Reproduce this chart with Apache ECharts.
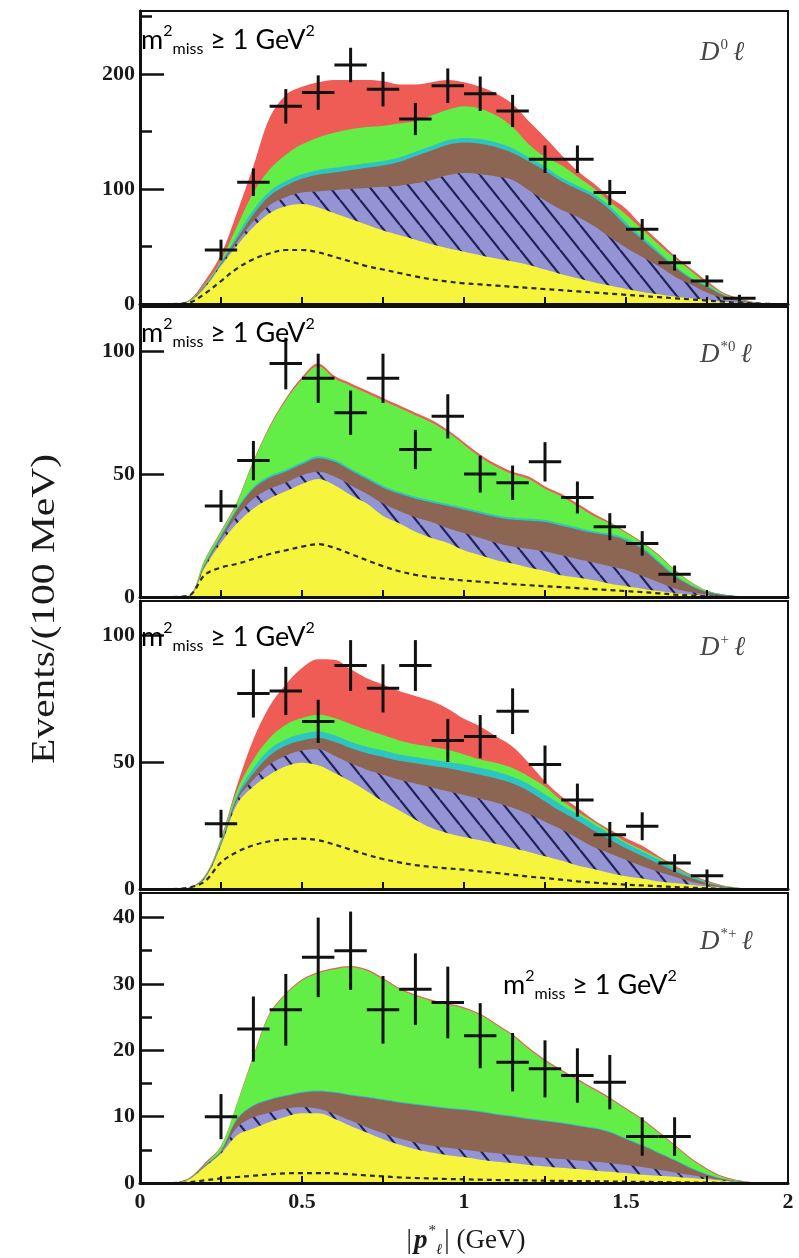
<!DOCTYPE html>
<html>
<head>
<meta charset="utf-8">
<script src="https://cdn.jsdelivr.net/npm/echarts@6/dist/echarts.min.js"></script>
<style>
  html, body { margin: 0; padding: 0; background: #fff; }
  #main { width: 799px; height: 1258px; }
</style>
</head>
<body>
<div id="main"></div>
<script>
// x positions of the fitted templates (GeV)
var xs = [0.1, 0.15, 0.2, 0.25, 0.3, 0.35, 0.4, 0.45, 0.5, 0.55, 0.6, 0.65, 0.7, 0.75, 0.8, 0.85, 0.9, 0.95, 1.0,
  1.05, 1.1, 1.15, 1.2, 1.25, 1.3, 1.35, 1.4, 1.45, 1.5, 1.55, 1.6, 1.65, 1.7, 1.75, 1.8, 1.85, 1.9, 1.95];

// panel 1 : D0 l  (cumulative top edge of every band)
var red1 = [0, 3, 20, 43, 80, 120, 162, 182, 189, 193, 195, 195, 195, 194, 191, 191, 193, 195, 193, 189, 183, 174, 159, 145, 130, 116, 105, 93, 83, 68, 55, 42, 31, 20, 10, 5, 1.5, 0];
var green1 = [0, 2.8, 17, 38, 68, 97, 117, 130, 139, 145, 149, 152, 154, 155, 157, 159, 164, 169, 172, 170, 164, 154, 139, 128, 121, 111, 101, 89, 78, 65, 52, 40, 29, 18, 9, 4, 1.2, 0];
var cyan1 = [0, 2.5, 16, 36.5, 60, 82, 98, 107, 113, 116.5, 118.5, 120.5, 122.5, 124.5, 127.5, 132.5, 137.5, 142.5, 144.5, 143.5, 140.5, 135.5, 127.5, 119.5, 110, 103, 96, 85, 71, 58.5, 46, 33.5, 23, 16, 8, 3.3, 1.1, 0];
var brown1 = [0, 2.4, 15.5, 35.5, 57, 78, 94, 103, 109, 112.5, 114.5, 116.5, 118.5, 120.5, 123.5, 128.5, 133.5, 138.5, 140.5, 139.5, 136.5, 131.5, 124, 116, 107, 100, 93, 82, 68, 56, 44, 32, 22, 15, 7.5, 3, 1, 0];
var lav1 = [0, 2.2, 15, 34.5, 54, 72, 86, 93, 97, 98, 99, 100, 101, 102, 103, 105, 108, 112, 114, 113, 111, 108, 99, 90, 82, 76, 68, 58, 49, 41, 33, 24, 17, 10, 5, 2.5, 0.9, 0];
var yellow1 = [0, 2, 14, 33, 51, 67, 79, 85, 87, 84, 79, 74, 69, 64, 60, 56, 52, 48.5, 45.5, 42.5, 39.5, 37, 34, 30, 26, 22.5, 19, 16, 13, 10.5, 8.5, 6.5, 5, 3.5, 2, 1, 0.4, 0];
var dash1 = [0, 1, 9, 20, 31, 39, 44, 47, 47, 45, 41, 37, 33, 30, 27, 24, 21.5, 19.5, 18, 17, 16, 15, 14, 13, 12, 11, 10, 9, 8, 7, 6, 5, 4, 3, 2, 1, 0.5, 0];
var ptX1 = [0.25, 0.35, 0.45, 0.55, 0.65, 0.75, 0.85, 0.95, 1.05, 1.15, 1.25, 1.35, 1.45, 1.55, 1.65, 1.75, 1.85];
var ptY1 = [47, 106, 172, 184, 208, 187, 161, 190, 183, 168, 126, 126, 97, 65, 36, 20, 5];
var ptE1 = [9, 12, 15, 15, 15, 15, 14, 15, 15, 14, 12, 12, 11, 9, 7, 5, 3];

// panel 2 : D*0 l
var red2 = [0, 0.6, 15.3, 27, 39, 55.5, 69.6, 80.8, 89.5, 95, 90, 87, 84, 81, 78, 75, 72, 68, 63, 58, 54, 51, 49, 45, 42, 38, 34, 30.5, 26.5, 22.4, 17.4, 11.3, 6.2, 2.6, 1, 0.3, 0, 0];
var green2 = [0, 0.5, 15, 26.5, 38.5, 55, 69, 80, 88.5, 94, 89, 86, 83, 80, 77, 74, 71, 67, 62, 57, 53, 50, 48, 44, 41, 37, 33, 30, 26, 22, 17, 11, 6, 2.5, 1, 0.3, 0, 0];
var cyan2 = [0, 0.35, 13.5, 25.2, 36.3, 44.8, 49.3, 51.8, 54.8, 57.3, 55.8, 52.3, 48.8, 45.3, 42.8, 40.8, 39.3, 37.8, 36.3, 34.8, 33.3, 32.3, 31.8, 31.3, 29.8, 28.3, 26.8, 25.8, 23.8, 20.3, 14.8, 9.2, 5, 2.3, 1, 0.4, 0, 0];
var brown2 = [0, 0.3, 13.2, 24.5, 35.5, 44, 48.5, 51, 54, 56.5, 55, 51.5, 48, 44.5, 42, 40, 38.5, 37, 35.5, 34, 32.5, 31.5, 31, 30.5, 29, 27.5, 26, 25, 23, 19.5, 14, 8.5, 4.5, 2, 0.8, 0.3, 0, 0];
var lav2 = [0, 0.25, 12.6, 23.5, 33, 40, 44, 46.5, 49.5, 51, 49, 45.5, 42, 38, 35, 32.5, 30.5, 28, 26, 24, 22, 20.5, 19.5, 18.5, 17, 15.5, 14, 12.5, 11, 8.5, 6, 3.5, 2, 1, 0.5, 0.2, 0, 0];
var yellow2 = [0, 0.2, 12, 22, 30, 36, 40, 43, 46, 48, 45.5, 41.5, 38, 33, 30, 26.5, 24, 22, 19, 17, 15, 13.6, 12, 10.6, 8.8, 7.9, 6.8, 5.4, 4.4, 3.4, 2.4, 1.6, 1, 0.5, 0.2, 0.1, 0, 0];
var dash2 = [0, 0.5, 9, 12, 13.5, 15.5, 17.5, 19, 20.5, 21.5, 20, 17.5, 15, 12.5, 10.5, 9, 8, 7.3, 6.7, 6.2, 5.7, 5.2, 4.8, 4.4, 4, 3.6, 3.2, 2.8, 2.4, 2, 1.5, 1, 0.6, 0.3, 0.1, 0, 0, 0];
var ptX2 = [0.25, 0.35, 0.45, 0.55, 0.65, 0.75, 0.85, 0.95, 1.05, 1.15, 1.25, 1.35, 1.45, 1.55, 1.65];
var ptY2 = [37, 55.5, 95, 89, 75, 89, 60, 73.5, 50, 46.5, 55, 40.5, 28.6, 21.8, 9.3];
var ptE2 = [6.5, 8, 10.5, 10, 9, 10, 8, 9, 7.5, 7, 8, 6.5, 5.5, 5, 3.5];

// panel 3 : D+ l
var red3 = [0, 0.5, 5.2, 20, 41, 59, 72, 80.5, 87, 90.5, 90.3, 86.6, 83, 80.5, 78, 76, 74, 71, 67, 64, 60, 56, 49.6, 42.4, 36.5, 32, 27.3, 23.4, 20, 17, 13, 9.3, 5.8, 3.2, 1.4, 0.5, 0, 0];
var green3 = [0, 0.5, 5, 19.4, 39, 51, 59.5, 64.7, 67.3, 68.6, 67.3, 65, 62.7, 60.6, 58.5, 57, 56, 54.8, 53, 51, 49.6, 47.6, 44.3, 40.4, 35, 30.5, 26.5, 22.5, 18.5, 15.5, 12.3, 8.6, 5.4, 2.9, 1.25, 0.4, 0, 0];
var cyan3 = [0, 0.45, 4.8, 18.5, 37, 47.5, 55, 59, 61, 62, 60.5, 58, 56, 54.5, 53, 52, 51, 50, 49, 47.7, 46.2, 44.2, 41.2, 37.2, 33.2, 29.5, 25.5, 21.7, 18, 14.8, 11.6, 8.2, 5.2, 2.7, 1.2, 0.35, 0, 0];
var brown3 = [0, 0.4, 4.6, 18, 36, 45.5, 52.5, 56.5, 58.5, 59.5, 58, 55.5, 53.5, 52, 50.5, 49.5, 48.5, 47.5, 46.3, 45, 43.5, 41.5, 38.5, 34.5, 30.5, 27, 23, 19.5, 16, 13, 10, 7, 4.4, 2.3, 1, 0.3, 0, 0];
var lav3 = [0, 0.35, 4.3, 17.5, 35, 43, 49, 52.5, 54.5, 55, 52.5, 49.5, 47, 45, 43, 41.5, 40, 38.5, 37, 35.5, 34, 32, 29.5, 26.5, 23.5, 20, 16.5, 14, 11.5, 9, 6.8, 4.8, 3, 1.6, 0.7, 0.2, 0, 0];
var yellow3 = [0, 0.3, 4, 17, 33.5, 40.4, 45, 48.3, 49.7, 48.7, 45.7, 42.4, 38.5, 34.5, 31, 27.3, 24, 22, 20.5, 19.2, 17.7, 16.1, 14.6, 12.9, 11.2, 9.3, 7.9, 6.3, 5, 4.1, 3, 2.4, 1.7, 1, 0.5, 0.2, 0, 0];
var dash3 = [0, 0.5, 3, 10.5, 14.6, 17.2, 18.8, 19.6, 19.8, 19.2, 17.5, 15.5, 13.5, 11.8, 10.5, 9.4, 8.7, 8.1, 7.6, 6.9, 6.3, 5.6, 4.9, 4.3, 3.7, 3, 2.5, 2.1, 1.7, 1.4, 1.1, 0.8, 0.5, 0.3, 0.1, 0, 0, 0];
var ptX3 = [0.25, 0.35, 0.45, 0.55, 0.65, 0.75, 0.85, 0.95, 1.05, 1.15, 1.25, 1.35, 1.45, 1.55, 1.65, 1.75];
var ptY3 = [25.7, 77, 78, 66, 88, 79, 88, 58.5, 60, 70, 49, 35, 21.4, 24.7, 10.2, 5.2];
var ptE3 = [5.5, 9.5, 9.5, 8.5, 10, 9.5, 10, 8.5, 8.5, 9, 7.5, 6.5, 5, 5.5, 3.5, 2.5];

// panel 4 : D*+ l
var red4 = [0, 0.7, 3, 5.6, 12.1, 19.2, 25.6, 28.6, 30.7, 31.8, 32.4, 32.7, 32.2, 30.9, 29.4, 28.4, 27.6, 27.1, 26.5, 25.5, 24, 22.4, 20.4, 18.6, 17.1, 15.7, 14.3, 12.9, 11.3, 9.7, 7.8, 5.8, 3.8, 2.2, 1, 0.4, 0.1, 0];
var green4 = [0, 0.65, 2.8, 5.5, 12, 19, 25.4, 28.4, 30.5, 31.6, 32.2, 32.5, 32, 30.7, 29.2, 28.2, 27.4, 26.9, 26.3, 25.3, 23.8, 22.2, 20.2, 18.4, 16.9, 15.5, 14.1, 12.7, 11.1, 9.5, 7.6, 5.6, 3.6, 2, 0.85, 0.35, 0.1, 0];
var cyan4 = [0, 0.62, 2.7, 4.9, 9.75, 11.75, 12.65, 13.25, 13.75, 13.95, 13.75, 13.35, 13.05, 12.65, 12.25, 11.95, 11.65, 11.35, 11.15, 10.85, 10.45, 10.15, 9.75, 9.45, 9.15, 8.75, 8.35, 7.75, 6.75, 5.75, 4.65, 3.55, 2.35, 1.35, 0.65, 0.25, 0, 0];
var brown4 = [0, 0.6, 2.6, 4.8, 9.6, 11.6, 12.5, 13.1, 13.6, 13.8, 13.6, 13.2, 12.9, 12.5, 12.1, 11.8, 11.5, 11.2, 11, 10.7, 10.3, 10, 9.6, 9.3, 9, 8.6, 8.2, 7.6, 6.6, 5.6, 4.5, 3.4, 2.2, 1.25, 0.6, 0.2, 0, 0];
var lav4 = [0, 0.55, 2.5, 4.6, 8.4, 9.9, 10.6, 11.2, 11.4, 11.2, 10.4, 9.4, 8.4, 7.5, 6.7, 6.1, 5.6, 5.3, 5, 4.7, 4.5, 4.2, 4, 3.8, 3.6, 3.4, 3.2, 3, 2.7, 2.4, 2, 1.6, 1.2, 0.8, 0.45, 0.15, 0, 0];
var yellow4 = [0, 0.5, 2.4, 4.4, 7.2, 8.2, 9.2, 10, 10.5, 10.5, 9.7, 8.6, 7.6, 6.6, 5.8, 5.1, 4.6, 4.2, 3.9, 3.5, 3.2, 3, 2.7, 2.5, 2.3, 2.1, 1.9, 1.7, 1.5, 1.25, 1.1, 0.95, 0.75, 0.55, 0.35, 0.15, 0, 0];
var dash4 = [0, 0.1, 0.4, 0.7, 0.9, 1.1, 1.3, 1.45, 1.5, 1.5, 1.45, 1.3, 1.15, 1, 0.85, 0.75, 0.68, 0.6, 0.55, 0.5, 0.45, 0.42, 0.38, 0.35, 0.32, 0.29, 0.26, 0.23, 0.2, 0.17, 0.14, 0.11, 0.08, 0.05, 0.03, 0.01, 0, 0];
var ptX4 = [0.25, 0.35, 0.45, 0.55, 0.65, 0.75, 0.85, 0.95, 1.05, 1.15, 1.25, 1.35, 1.45, 1.55, 1.65];
var ptY4 = [10, 23.2, 26.1, 34, 35, 26.1, 29.2, 27.2, 22.2, 18.2, 17.2, 16.2, 15.2, 7, 7];
var ptE4 = [3.4, 4.9, 5.4, 6, 5.9, 5.1, 5.4, 5.4, 4.9, 4.4, 4.3, 4.1, 4.1, 2.9, 2.9];

// axis ticks and labels
var xTickVals = [0.25, 0.5, 0.75, 1, 1.25, 1.5, 1.75];
var xLabelVals = [0, 0.5, 1, 1.5, 2];
var yMax = [255, 118, 113.4, 43.7];
var yMajor = [[0, 100, 200], [0, 50, 100], [0, 50, 100], [0, 10, 20, 30, 40]];
var yMinor = [[50, 150, 250], [], [], [5, 15, 25, 35]];
var panelNames = ['0', '*0', '+', '*+'];

var panels = [
  { red: red1, green: green1, cyan: cyan1, brown: brown1, lav: lav1, yellow: yellow1, dash: dash1, px: ptX1, py: ptY1, pe: ptE1 },
  { red: red2, green: green2, cyan: cyan2, brown: brown2, lav: lav2, yellow: yellow2, dash: dash2, px: ptX2, py: ptY2, pe: ptE2 },
  { red: red3, green: green3, cyan: cyan3, brown: brown3, lav: lav3, yellow: yellow3, dash: dash3, px: ptX3, py: ptY3, pe: ptE3 },
  { red: red4, green: green4, cyan: cyan4, brown: brown4, lav: lav4, yellow: yellow4, dash: dash4, px: ptX4, py: ptY4, pe: ptE4 }
];

var gridBoxes = [
  { top: 11, height: 293 },
  { top: 307, height: 290 },
  { top: 601, height: 288 },
  { top: 893, height: 290 }
];

// hatch pattern for the lavender band
function makeHatch () {
  var w = 20, h = 25;
  var c = document.createElement('canvas');
  c.width = w; c.height = h;
  var g = c.getContext('2d');
  g.fillStyle = '#9494d4';
  g.fillRect(0, 0, w, h);
  g.strokeStyle = '#22225a';
  g.lineWidth = 2.2;
  [-w, 0, w].forEach(function (o) {
    g.beginPath();
    g.moveTo(o, 0);
    g.lineTo(o + w, h);
    g.stroke();
  });
  return c;
}
var hatch = makeHatch();

var myChart = echarts.init(document.getElementById('main'));

var grid = [], xAxis = [], yAxis = [], series = [];
var tickFont = { fontFamily: '"Liberation Serif", "DejaVu Serif", serif', fontSize: 22, fontWeight: 'bold', color: '#1a1a1a' };

gridBoxes.forEach(function (b, i) {
  grid.push({ left: 140, right: 11, top: b.top, height: b.height, show: true, borderColor: '#111', borderWidth: 2, backgroundColor: 'transparent' });
  xAxis.push({
    gridIndex: i, type: 'value', min: 0, max: 2, z: 10,
    axisLine: { show: true, lineStyle: { color: '#111', width: 3 } },
    axisTick: { show: true, inside: true, length: 7, customValues: xTickVals, lineStyle: { color: '#111', width: 2 } },
    axisLabel: Object.assign({ show: i === 3, margin: 8, customValues: xLabelVals }, tickFont),
    splitLine: { show: false }
  });
  yAxis.push({
    gridIndex: i, type: 'value', min: 0, max: yMax[i], position: 'left', z: 10,
    axisLine: { show: true, lineStyle: { color: '#111', width: 3 } },
    axisTick: { show: true, inside: true, length: 24, customValues: yMajor[i], lineStyle: { color: '#111', width: 2.5 } },
    axisLabel: Object.assign({ margin: 5, customValues: yMajor[i] }, tickFont),
    splitLine: { show: false }
  });
});
// short ticks
[0, 3].forEach(function (i) {
  yAxis.push({
    gridIndex: i, type: 'value', min: 0, max: yMax[i], position: 'left', offset: 0, z: 10,
    axisLine: { show: false },
    axisTick: { show: true, inside: true, length: 12, customValues: yMinor[i], lineStyle: { color: '#111', width: 2.5 } },
    axisLabel: { show: false },
    splitLine: { show: false }
  });
});

function band (i, vals, color) {
  return {
    type: 'line', xAxisIndex: i, yAxisIndex: i, silent: true,
    data: xs.map(function (x, k) { return [x, vals[k]] }),
    symbol: 'none', smooth: 0.35,
    lineStyle: { width: 0, opacity: 0 },
    areaStyle: { color: color, opacity: 1 }
  };
}

function renderCross (params, api) {
  var x = api.value(0), y = api.value(1), e = api.value(2);
  var l = api.coord([x - 0.05, y]);
  var r = api.coord([x + 0.05, y]);
  var t = api.coord([x, y + e]);
  var b = api.coord([x, Math.max(0, y - e)]);
  var st = { stroke: '#111', lineWidth: 3 };
  return {
    type: 'group',
    children: [
      { type: 'line', shape: { x1: l[0], y1: l[1], x2: r[0], y2: r[1] }, style: st },
      { type: 'line', shape: { x1: t[0], y1: t[1], x2: b[0], y2: b[1] }, style: st }
    ]
  };
}

panels.forEach(function (p, i) {
  series.push(band(i, p.red, '#ef5b55'));
  series.push(band(i, p.green, '#62ee46'));
  series.push(band(i, p.cyan, '#2ec4c2'));
  series.push(band(i, p.brown, '#8c6652'));
  series.push(band(i, p.lav, { image: hatch, repeat: 'repeat' }));
  series.push(band(i, p.yellow, '#f6f43c'));
  series.push({
    type: 'line', xAxisIndex: i, yAxisIndex: i, silent: true,
    data: xs.map(function (x, k) { return [x, p.dash[k]] }),
    symbol: 'none', smooth: 0.35,
    lineStyle: { color: '#2a2a2a', width: 2.2, type: [5, 4] }
  });
  series.push({
    type: 'custom', xAxisIndex: i, yAxisIndex: i, silent: true, z: 5,
    data: p.px.map(function (x, k) { return [x, p.py[k], p.pe[k]] }),
    encode: { x: 0, y: 1 },
    renderItem: renderCross
  });
});

// text overlays
var missTextPos = [[141, 40], [141, 333], [141, 637], [503, 985]];
var labelPos = [[700, 53], [700, 355], [700, 648], [700, 942]];
var graphic = [];
missTextPos.forEach(function (pos) {
  graphic.push({
    type: 'text', x: pos[0], y: pos[1], z: 20, silent: true,
    style: {
      text: '{m|m}{sup|2}{sub|miss}{m| ≥ 1 GeV}{sup|2}',
      align: 'left', verticalAlign: 'middle',
      rich: {
        m: { fontFamily: 'Lato', fontSize: 27, lineHeight: 34, fill: '#000', verticalAlign: 'middle' },
        sup: { fontFamily: 'Lato', fontSize: 16, lineHeight: 16, fill: '#000', verticalAlign: 'top' },
        sub: { fontFamily: 'Lato', fontSize: 16, lineHeight: 16, fill: '#000', verticalAlign: 'bottom' }
      }
    }
  });
});
labelPos.forEach(function (pos, i) {
  graphic.push({
    type: 'text', x: pos[0], y: pos[1], z: 20, silent: true,
    style: {
      text: '{d|D}{s|' + panelNames[i] + '}{d|ℓ}',
      align: 'left', verticalAlign: 'middle',
      rich: {
        d: { fontFamily: '"Liberation Serif", "DejaVu Serif", serif', fontStyle: 'italic', fontSize: 27, lineHeight: 30, fill: '#474747', verticalAlign: 'middle' },
        s: { fontFamily: '"Liberation Serif", "DejaVu Serif", serif', fontSize: 15, lineHeight: 15, fill: '#474747', verticalAlign: 'top', padding: [0, 5, 0, 1] }
      }
    }
  });
});
graphic.push({
  type: 'text', x: 45, y: 609, rotation: Math.PI / 2, scaleX: 1.22, z: 20, silent: true,
  style: {
    text: 'Events/(100 MeV)', align: 'center', verticalAlign: 'middle',
    fontFamily: '"Liberation Serif", "DejaVu Serif", serif', fontSize: 34, fill: '#1a1a1a'
  }
});
graphic.push({
  type: 'text', x: 466, y: 1241, z: 20, silent: true,
  style: {
    text: '{n||}{p|p}{sup|*}{sub|ℓ}{n|| (GeV)}', align: 'center', verticalAlign: 'middle',
    rich: {
      n: { fontFamily: '"Liberation Serif", "DejaVu Serif", serif', fontSize: 27, lineHeight: 34, fill: '#1a1a1a', verticalAlign: 'middle' },
      p: { fontFamily: '"Liberation Serif", "DejaVu Serif", serif', fontSize: 27, lineHeight: 34, fontWeight: 'bold', fontStyle: 'italic', fill: '#1a1a1a', verticalAlign: 'middle', padding: [0, 1, 0, 2] },
      sup: { fontFamily: '"Liberation Serif", "DejaVu Serif", serif', fontSize: 15, lineHeight: 15, fill: '#1a1a1a', verticalAlign: 'top' },
      sub: { fontFamily: '"Liberation Serif", "DejaVu Serif", serif', fontStyle: 'italic', fontSize: 15, lineHeight: 15, fill: '#1a1a1a', verticalAlign: 'bottom', padding: [0, 2, 0, 0] }
    }
  }
});

var option = {
  animation: false,
  backgroundColor: '#fff',
  grid: grid,
  xAxis: xAxis,
  yAxis: yAxis,
  series: series,
  graphic: graphic
};

myChart.setOption(option, true);
</script>
</body>
</html>
